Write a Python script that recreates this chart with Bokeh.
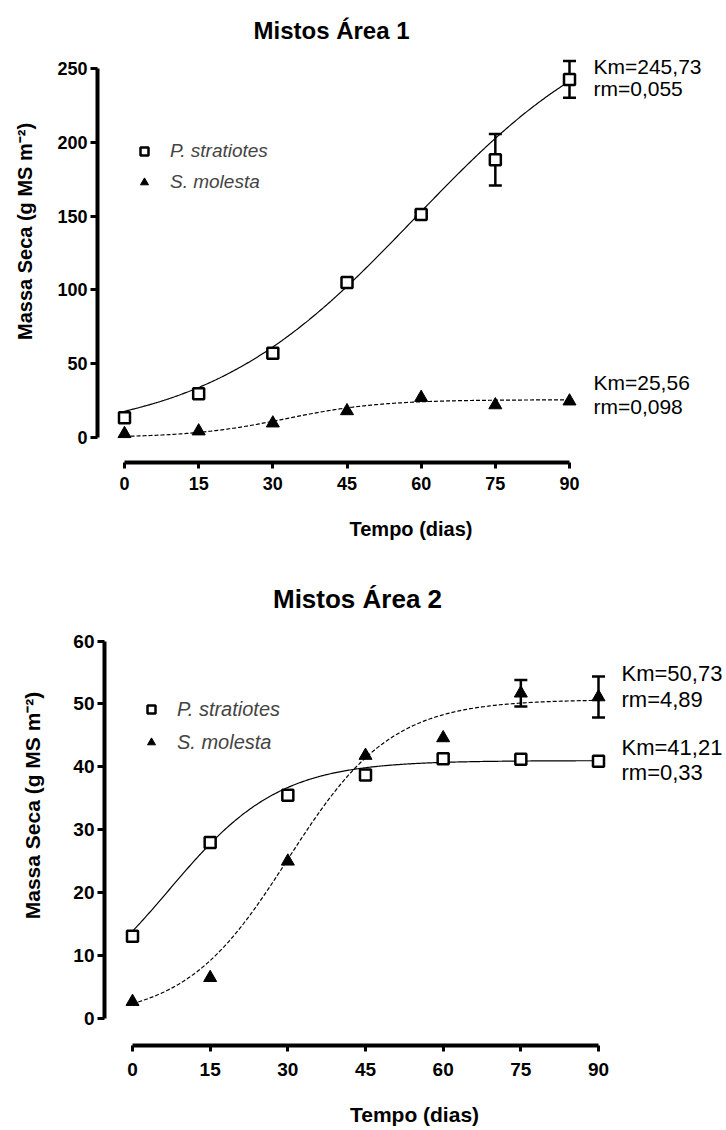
import numpy as np
from bokeh.plotting import figure
from bokeh.models import (Range1d, ColumnDataSource, Whisker, Legend, LegendItem,
                          TeeHead, FixedTicker)
from bokeh.layouts import column, row
from bokeh.core.properties import value
from bokeh.embed import file_html
from bokeh.resources import INLINE

# ---------------- data ----------------
days = [0, 15, 30, 45, 60, 75, 90]
x_ticks = [0, 15, 30, 45, 60, 75, 90]
x_label = "Tempo (dias)"
y_label = "Massa Seca (g MS m\u207b\u00b2)"
legend_labels = ["P. stratiotes", "S. molesta"]

a1_title = "Mistos \u00c1rea 1"
a1_p_mean = [13.3, 29.6, 57.0, 105.0, 151.0, 188.2, 242.6]
a1_p_err = [0, 0, 0, 0, 1.5, 17.5, 12.5]
a1_s_mean = [2.5, 4.3, 9.7, 18.0, 27.0, 22.0, 24.6]
a1_s_err = [0, 0, 0, 0, 0, 0, 0]
a1_y_ticks = [0, 50, 100, 150, 200, 250]
a1_p_fit = {"K": 297.0, "r": 0.0469, "N0": 17.8}
a1_s_fit = {"K": 25.56, "r": 0.105, "N0": 0.8}
a1_p_note = ["Km=245,73", "rm=0,055"]
a1_s_note = ["Km=25,56", "rm=0,098"]

a2_title = "Mistos \u00c1rea 2"
a2_p_mean = [13.1, 28.0, 35.5, 38.7, 41.3, 41.2, 40.9]
a2_p_err = [0, 0, 0, 0.4, 0, 0, 0]
a2_s_mean = [2.7, 6.5, 25.0, 41.8, 44.6, 51.7, 51.1]
a2_s_err = [0, 0, 0, 0, 0, 2.1, 3.25]
a2_y_ticks = [0, 10, 20, 30, 40, 50, 60]
a2_p_fit = {"K": 41.0, "r": 0.094, "N0": 13.9}
a2_s_fit = {"K": 50.7, "r": 0.100, "N0": 2.4}
a2_s_note = ["Km=50,73", "rm=4,89"]
a2_p_note = ["Km=41,21", "rm=0,33"]

FONT = "Liberation Sans"
W = 724


def logistic(t, fit):
    K, r, N0 = fit["K"], fit["r"], fit["N0"]
    return K / (1.0 + (K / N0 - 1.0) * np.exp(-r * t))


def panel(title, p_mean, p_err, s_mean, s_err, y_ticks, p_fit, s_fit,
          notes, g):
    H = g["H"]
    sx = (g["px90"] - g["px0"]) / 90.0
    sy = (g["py0"] - g["pytop"]) / float(y_ticks[-1])
    fl, ft, fb, fr = g["frame_left"], g["top"], g["frame_bottom"], W

    def X(px):
        return (px - g["px0"]) / sx

    def Y(py):
        return (g["py0"] - py) / sy

    p = figure(width=W, height=H, output_backend="svg", toolbar_location=None,
               x_range=Range1d(X(fl), X(fr)), y_range=Range1d(Y(fb), Y(ft)),
               min_border_left=fl, min_border_right=0, min_border_top=0,
               min_border_bottom=g["top"] + H - fb)
    p.outline_line_color = None
    p.grid.visible = False
    p.background_fill_color = "white"
    p.border_fill_color = "white"

    for ax, ticks, b in ((p.xaxis, x_ticks, (0, 90)), (p.yaxis, y_ticks, (y_ticks[0], y_ticks[-1]))):
        ax.ticker = FixedTicker(ticks=ticks)
        ax.bounds = b
        ax.axis_line_width = 4
        ax.axis_line_color = "black"
        ax.major_tick_line_width = 3
        ax.major_tick_line_color = "black"
        ax.major_tick_in = 0
        ax.minor_tick_line_color = None
        ax.major_label_text_font = FONT
        ax.major_label_text_font_style = "bold"
        ax.major_label_text_font_size = g["tick_fs"]
        ax.major_label_text_color = "black"
        ax.axis_label_text_font = FONT
        ax.axis_label_text_font_style = "bold"
        ax.axis_label_text_font_size = g["lab_fs"]
        ax.axis_label_text_color = "black"
    p.xaxis.major_tick_out = 6
    p.yaxis.major_tick_out = 7
    p.xaxis.axis_label = x_label
    p.yaxis.axis_label = y_label
    p.xaxis.major_label_standoff = g["x_std"]
    p.xaxis.axis_label_standoff = g["x_lstd"]
    p.yaxis.major_label_standoff = 3
    p.yaxis.axis_label_standoff = g["y_lstd"]

    tt = np.linspace(0, 90, 361)
    p.line(tt, logistic(tt, p_fit), line_color="black", line_width=1.2)
    p.line(tt, logistic(tt, s_fit), line_color="black", line_width=1.2, line_dash="4 2")

    for mean, err in ((p_mean, p_err), (s_mean, s_err)):
        xs = [d for d, e in zip(days, err) if e > 0]
        lo = [m - e for m, e in zip(mean, err) if e > 0]
        hi = [m + e for m, e in zip(mean, err) if e > 0]
        if xs:
            src = ColumnDataSource(dict(x=xs, lo=lo, hi=hi))
            w = Whisker(base="x", lower="lo", upper="hi", source=src,
                        line_width=2.5, line_color="black",
                        upper_head=TeeHead(size=13, line_width=2.5, line_color="black"),
                        lower_head=TeeHead(size=13, line_width=2.5, line_color="black"),
                        level="underlay")
            p.add_layout(w)

    rp = p.scatter(days, p_mean, marker="square", size=11, fill_color="white",
                   line_color="black", line_width=2.5)
    rs = p.scatter(days, s_mean, marker="triangle", size=13, fill_color="black",
                   line_color="black", line_width=1)

    lx, ly = g["leg_loc"]
    leg = Legend(items=[LegendItem(label=legend_labels[0], renderers=[rp]),
                        LegendItem(label=legend_labels[1], renderers=[rs])],
                 location=(lx - fl, ly), orientation="vertical", padding=0, margin=0,
                 spacing=3, glyph_width=20, glyph_height=g["leg_h"],
                 label_height=g["leg_h"], label_standoff=16,
                 label_text_font=FONT, label_text_font_style="italic",
                 label_text_font_size=g["leg_fs"], border_line_color=None,
                 background_fill_alpha=0)
    p.add_layout(leg)

    p.text(x=[X(g["title_x"])], y=[Y(g["title_y"])], text=[title],
           text_font=value(FONT), text_font_style="bold", text_font_size=g["title_fs"],
           text_align="center", text_baseline="middle", text_color="black")

    for lines, (nx, ny1, ny2) in zip(notes, g["note_pos"]):
        p.text(x=[X(nx), X(nx)], y=[Y(ny1), Y(ny2)], text=lines,
               text_font=value(FONT), text_font_size=g["note_fs"],
               text_align="left", text_baseline="middle", text_color="black")
    return p


g1 = dict(H=565, top=0, frame_left=97, frame_bottom=462,
          px0=124, px90=569, py0=437, pytop=68,
          tick_fs="18px", lab_fs="20px", x_std=8, x_lstd=25, y_lstd=18,
          leg_loc=(134, 266), leg_h=28, leg_fs="19px",
          title_x=331, title_y=30, title_fs="24px",
          note_fs="21px", note_pos=[(593, 66, 88), (593, 382, 406)])
g2 = dict(H=563, top=565, frame_left=104, frame_bottom=1048,
          px0=132, px90=598, py0=1021, pytop=641,
          tick_fs="19px", lab_fs="21px", x_std=11, x_lstd=24, y_lstd=26,
          leg_loc=(141, 288), leg_h=30, leg_fs="20px",
          title_x=357, title_y=599, title_fs="26px",
          note_fs="22px", note_pos=[(621, 674, 700), (621, 748, 773)])

p1 = panel(a1_title, a1_p_mean, a1_p_err, a1_s_mean, a1_s_err, a1_y_ticks,
           a1_p_fit, a1_s_fit, [a1_p_note, a1_s_note], g1)
p2 = panel(a2_title, a2_p_mean, a2_p_err, a2_s_mean, a2_s_err, a2_y_ticks,
           a2_p_fit, a2_s_fit, [a2_s_note, a2_p_note], g2)

layout = column(row(p1), row(p2), spacing=0)
open("out.html", "w").write(file_html(layout, INLINE))
